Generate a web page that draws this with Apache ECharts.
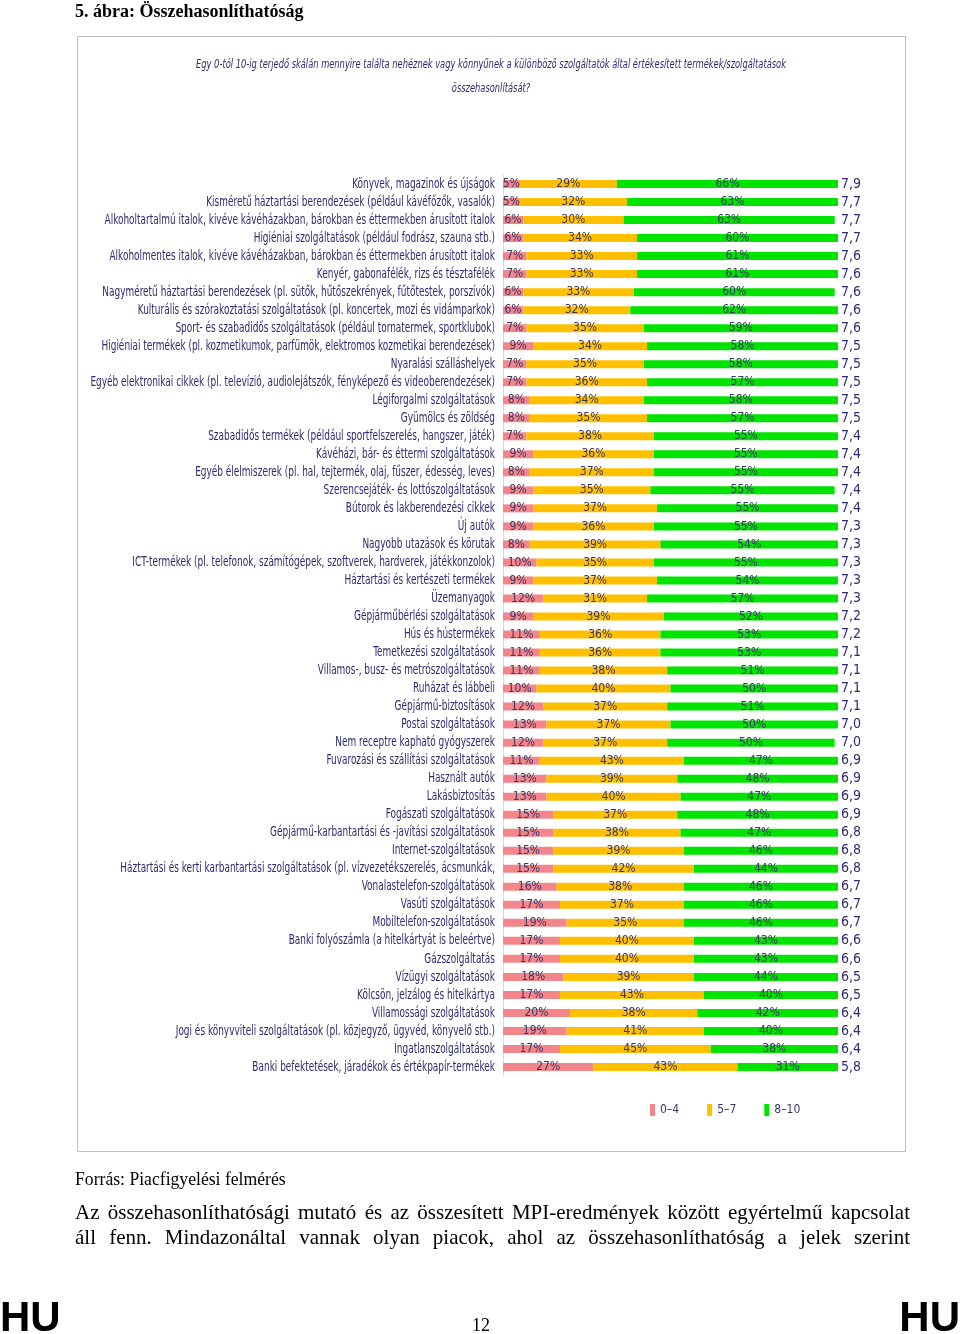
<!DOCTYPE html>
<html><head><meta charset="utf-8">
<script src="https://cdn.jsdelivr.net/npm/echarts@6/dist/echarts.min.js"></script>
<style>html,body{margin:0;padding:0;background:#fff}#c{width:960px;height:1334px}</style>
</head><body><div id="c"></div><script>
const categories = [
'Könyvek, magazinok és újságok',
'Kisméretű háztartási berendezések (például kávéfőzők, vasalók)',
'Alkoholtartalmú italok, kivéve kávéházakban, bárokban és éttermekben árusított italok',
'Higiéniai szolgáltatások (például fodrász, szauna stb.)',
'Alkoholmentes italok, kivéve kávéházakban, bárokban és éttermekben árusított italok',
'Kenyér, gabonafélék, rizs és tésztafélék',
'Nagyméretű háztartási berendezések (pl. sütők, hűtőszekrények, fűtőtestek, porszívók)',
'Kulturális és szórakoztatási szolgáltatások (pl. koncertek, mozi és vidámparkok)',
'Sport- és szabadidős szolgáltatások (például tornatermek, sportklubok)',
'Higiéniai termékek (pl. kozmetikumok, parfümök, elektromos kozmetikai berendezések)',
'Nyaralási szálláshelyek',
'Egyéb elektronikai cikkek (pl. televízió, audiolejátszók, fényképező és videoberendezések)',
'Légiforgalmi szolgáltatások',
'Gyümölcs és zöldség',
'Szabadidős termékek (például sportfelszerelés, hangszer, játék)',
'Kávéházi, bár- és éttermi szolgáltatások',
'Egyéb élelmiszerek (pl. hal, tejtermék, olaj, fűszer, édesség, leves)',
'Szerencsejáték- és lottószolgáltatások',
'Bútorok és lakberendezési cikkek',
'Új autók',
'Nagyobb utazások és körutak',
'ICT-termékek (pl. telefonok, számítógépek, szoftverek, hardverek, játékkonzolok)',
'Háztartási és kertészeti termékek',
'Üzemanyagok',
'Gépjárműbérlési szolgáltatások',
'Hús és hústermékek',
'Temetkezési szolgáltatások',
'Villamos-, busz- és metrószolgáltatások',
'Ruházat és lábbeli',
'Gépjármű-biztosítások',
'Postai szolgáltatások',
'Nem receptre kapható gyógyszerek',
'Fuvarozási és szállítási szolgáltatások',
'Használt autók',
'Lakásbiztosítás',
'Fogászati szolgáltatások',
'Gépjármű-karbantartási és -javítási szolgáltatások',
'Internet-szolgáltatások',
'Háztartási és kerti karbantartási szolgáltatások (pl. vízvezetékszerelés, ácsmunkák,',
'Vonalastelefon-szolgáltatások',
'Vasúti szolgáltatások',
'Mobiltelefon-szolgáltatások',
'Banki folyószámla (a hitelkártyát is beleértve)',
'Gázszolgáltatás',
'Vízügyi szolgáltatások',
'Kölcsön, jelzálog és hitelkártya',
'Villamossági szolgáltatások',
'Jogi és könyvviteli szolgáltatások (pl. közjegyző, ügyvéd, könyvelő stb.)',
'Ingatlanszolgáltatások',
'Banki befektetések, járadékok és értékpapír-termékek'
];
const low  = [5,5,6,6,7,7,6,6,7,9,7,7,8,8,7,9,8,9,9,9,8,10,9,12,9,11,11,11,10,12,13,12,11,13,13,15,15,15,15,16,17,19,17,17,18,17,20,19,17,27];
const mid  = [29,32,30,34,33,33,33,32,35,34,35,36,34,35,38,36,37,35,37,36,39,35,37,31,39,36,36,38,40,37,37,37,43,39,40,37,38,39,42,38,37,35,40,40,39,43,38,41,45,43];
const high = [66,63,63,60,61,61,60,62,59,58,58,57,58,57,55,55,55,55,55,55,54,55,54,57,52,53,53,51,50,51,50,50,47,48,47,48,47,46,44,46,46,46,43,43,44,40,42,40,38,31];
const scores = [7.9,7.7,7.7,7.7,7.6,7.6,7.6,7.6,7.6,7.5,7.5,7.5,7.5,7.5,7.4,7.4,7.4,7.4,7.4,7.3,7.3,7.3,7.3,7.3,7.2,7.2,7.1,7.1,7.1,7.1,7.0,7.0,6.9,6.9,6.9,6.9,6.8,6.8,6.8,6.7,6.7,6.7,6.6,6.6,6.5,6.5,6.4,6.4,6.4,5.8];
const seriesNames = ['0–4','5–7','8–10'];
const titleText = '5. ábra: Összehasonlíthatóság';
const subtitleLines = ['Egy 0-tól 10-ig terjedő skálán mennyire találta nehéznek vagy könnyűnek a különböző szolgáltatók által értékesített termékek/szolgáltatások','összehasonlítását?'];
const sourceText = 'Forrás: Piacfigyelési felmérés';
const paraLines = ['Az összehasonlíthatósági mutató és az összesített MPI-eredmények között egyértelmű kapcsolat','áll fenn. Mindazonáltal vannak olyan piacok, ahol az összehasonlíthatóság a jelek szerint'];
const pageNo = '12';

const NARROW = "'DejaVu Sans Condensed',sans-serif";
const NAVY = '#2e2b72';
const colors = ['#f4868b','#ffc000','#00e400'];

const chart = echarts.init(document.getElementById('c'), null, {renderer:'canvas'});

// justified paragraph words
const mctx = document.createElement('canvas').getContext('2d');
const paraFont = "21px 'Liberation Serif'";
const wordScale = 1.0;
mctx.font = paraFont;
const paraGraphics = [];
const pLeft = 75, pRight = 910;
paraLines.forEach((line, li) => {
  const words = line.split(' ');
  const widths = words.map(w => mctx.measureText(w).width * wordScale);
  const total = widths.reduce((a,b)=>a+b,0);
  const gap = (pRight - pLeft - total) / (words.length - 1);
  let x = pLeft;
  words.forEach((w, i) => {
    paraGraphics.push({type:'text', x:x, y:1213 + li*25, scaleX:wordScale,
      style:{text:w, font:paraFont, fill:'#000', verticalAlign:'middle'}});
    x += widths[i] + gap;
  });
});

const barSeries = [low, mid, high].map((arr, i) => ({
  name: seriesNames[i], type:'bar', stack:'t', barWidth:8,
  data: arr,
  itemStyle:{color:colors[i]},
  label:{show:true, position:'inside', formatter:'{c}%', color:'#3a3766', fontFamily:NARROW, fontSize:12},
  emphasis:{disabled:true}
}));

const subFont = "italic 13px 'DejaVu Sans Condensed'";
const baseGraphics = [
  {type:'rect', shape:{x:77.5, y:36.5, width:828, height:1115}, style:{fill:'none', stroke:'#bfbfbf', lineWidth:1}, z:-1},
  {type:'text', x:75, y:12, style:{text:titleText, font:"bold 18px 'Liberation Serif'", fill:'#000', verticalAlign:'middle'}},
  {type:'text', x:491, y:65, scaleX:0.71, style:{text:subtitleLines[0], font:subFont, fill:NAVY, align:'center', verticalAlign:'middle'}},
  {type:'text', x:491, y:89, scaleX:0.71, style:{text:subtitleLines[1], font:subFont, fill:NAVY, align:'center', verticalAlign:'middle'}},
  {type:'text', x:75, y:1180, scaleX:0.98, style:{text:sourceText, font:"18px 'Liberation Serif'", fill:'#000', verticalAlign:'middle'}},
  ...paraGraphics,
  {type:'text', left:0, top:1298, style:{text:'HU', font:"bold 42px 'Liberation Sans'", fill:'#000'}},
  {type:'text', right:0, top:1298, style:{text:'HU', font:"bold 42px 'Liberation Sans'", fill:'#000'}},
  {type:'text', x:481, y:1326, style:{text:pageNo, font:"18px 'Liberation Serif'", fill:'#000', align:'center', verticalAlign:'middle'}}
];

chart.setOption({
  animation:false,
  backgroundColor:'#fff',
  grid:{left:503, right:122, top:175, bottom:258, containLabel:false, outerBoundsMode:'none'},
  xAxis:{type:'value', min:0, max:100, show:false},
  yAxis:[
    {type:'category', data:categories, inverse:true,
     axisLine:{show:true, lineStyle:{color:'#d9d9d9'}}, axisTick:{show:false},
     axisLabel:{show:false}},
    {type:'category', data:scores.map(s => s.toFixed(1).replace('.', ',')), inverse:true, position:'right',
     axisLine:{show:false}, axisTick:{show:false},
     axisLabel:{interval:0, color:NAVY, fontFamily:NARROW, fontSize:14, margin:3}}
  ],
  legend:{data:seriesNames, left:645, top:1099, itemWidth:5, itemHeight:12, itemGap:28,
    textStyle:{color:'#3a3766', fontFamily:NARROW, fontSize:12}, icon:'rect'},
  series: barSeries,
  graphic: baseGraphics
});

// category labels placed through the axis scale, horizontally condensed
const catLabels = categories.map(c => {
  const y = chart.convertToPixel({yAxisIndex:0}, c);
  return {type:'text', x:495, y:y, scaleX:0.71,
    style:{text:c, font:"14px 'DejaVu Sans Condensed'", fill:NAVY, align:'right', verticalAlign:'middle'}};
});
chart.setOption({graphic: baseGraphics.concat(catLabels)}, {replaceMerge:['graphic']});
</script></body></html>
